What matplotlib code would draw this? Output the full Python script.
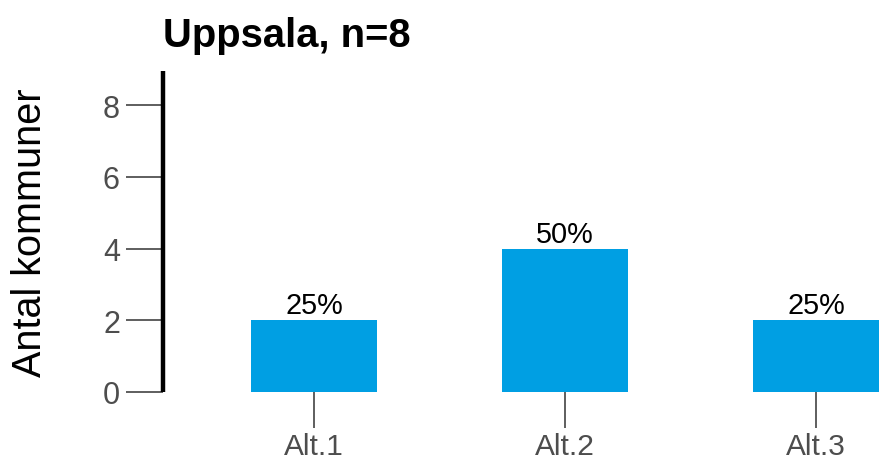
import matplotlib
matplotlib.use("Agg")
import matplotlib.pyplot as plt

categories = ["Alt.1", "Alt.2", "Alt.3"]
values = [2, 4, 2]
n_total = 8
title = "Uppsala, n=8"
ylabel = "Antal kommuner"
yticks = [0, 2, 4, 6, 8]

plt.rcParams['font.family'] = ['Liberation Sans', 'DejaVu Sans']

fig = plt.figure(figsize=(8.84, 4.64), dpi=100)
ax = fig.add_axes([163/884, 71/464, 721/884, 321/464])

x = list(range(len(categories)))
ax.bar(x, values, width=0.5, color="#009FE3")

for xi, v in zip(x, values):
    ax.annotate(f"{round(100*v/n_total)}%", (xi, v), xytext=(0, 5),
                textcoords="offset points", ha="center", va="baseline",
                fontsize=20.8, color="black")

ax.set_xlim(-0.6016, 2.271)
ax.set_ylim(0, 8.95)
ax.set_xticks(x)
ax.set_xticklabels(categories)
ax.set_yticks(yticks)

for s in ["top", "right", "bottom"]:
    ax.spines[s].set_visible(False)
ax.spines["left"].set_linewidth(3.2)
ax.spines["left"].set_color("black")
ax.spines["left"].set_capstyle("butt")

ax.tick_params(axis="x", length=26, width=1.1, color="#333333",
               labelsize=21.5, labelcolor="#4d4d4d", pad=2.5)
ax.tick_params(axis="y", length=27, width=1.1, color="#333333",
               labelsize=22, labelcolor="#4d4d4d", pad=4)

ax.set_ylabel(ylabel, fontsize=28.5, color="black", va="center")
ax.yaxis.set_label_coords((30 - 163) / 721, 0.5)

ax.set_title(title, loc="left", fontsize=28.8, fontweight="bold", pad=18)

fig.savefig("out.png", dpi=100)
